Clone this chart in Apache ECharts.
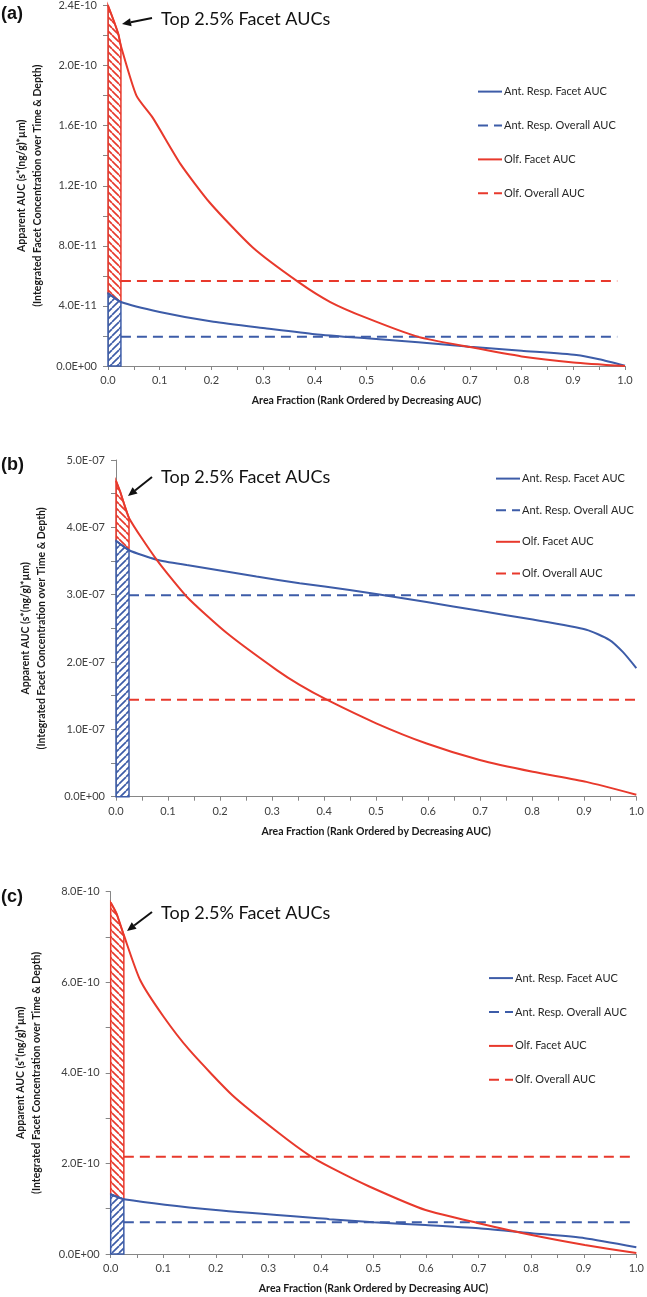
<!DOCTYPE html>
<html><head><meta charset="utf-8">
<script src="https://cdn.jsdelivr.net/npm/echarts@6/dist/echarts.min.js"></script>
<style>html,body{margin:0;padding:0;background:#fff}#c{width:647px;height:1297px}</style>
</head><body><div id="c"></div>
<script>
// ---------- data ----------
const seriesNames = ['Ant. Resp. Facet AUC', 'Ant. Resp. Overall AUC', 'Olf. Facet AUC', 'Olf. Overall AUC'];
const xTickLabels = ['0.0','0.1','0.2','0.3','0.4','0.5','0.6','0.7','0.8','0.9','1.0'];
const xTitle = 'Area Fraction (Rank Ordered by Decreasing AUC)';
const yTitle = 'Apparent AUC (s*(ng/g)*µm)\n(Integrated Facet Concentration over Time & Depth)';
const topCut = 0.025;
const annotText = 'Top 2.5% Facet AUCs';

// panel (a)
const aYTicks = ['0.0E+00','4.0E-11','8.0E-11','1.2E-10','1.6E-10','2.0E-10','2.4E-10'];
const aOlfX = [0, 0.012, 0.02, 0.025, 0.055, 0.087, 0.14, 0.197, 0.28, 0.37, 0.43, 0.5, 0.6, 0.7, 0.8, 0.9, 1.0];
const aOlfY = [2.40e-10, 2.29e-10, 2.21e-10, 2.13e-10, 1.80e-10, 1.65e-10, 1.346e-10, 1.087e-10, 0.789e-10, 0.555e-10, 0.426e-10, 0.32e-10, 0.194e-10, 0.126e-10, 0.064e-10, 0.024e-10, 0.0];
const aAntX = [0, 0.025, 0.1, 0.204, 0.307, 0.4, 0.5, 0.6, 0.7, 0.8, 0.906, 0.95, 1.0];
const aAntY = [4.84e-11, 4.26e-11, 3.6e-11, 2.94e-11, 2.5e-11, 2.12e-11, 1.84e-11, 1.58e-11, 1.28e-11, 1.01e-11, 0.73e-11, 0.45e-11, 0.02e-11];
const aOlfOverall = 5.66e-11;
const aAntOverall = 1.94e-11;
const aOverallX = [0.025, 0.985];

// panel (b)
const bYTicks = ['0.0E+00','1.0E-07','2.0E-07','3.0E-07','4.0E-07','5.0E-07'];
const bOlfX = [0, 0.008, 0.025, 0.078, 0.136, 0.213, 0.309, 0.353, 0.405, 0.5, 0.597, 0.699, 0.801, 0.904, 1.0];
const bOlfY = [4.69e-7, 4.53e-7, 4.14e-7, 3.52e-7, 2.97e-7, 2.43e-7, 1.88e-7, 1.66e-7, 1.44e-7, 1.09e-7, 0.79e-7, 0.545e-7, 0.37e-7, 0.22e-7, 0.03e-7];
const bAntX = [0, 0.025, 0.078, 0.136, 0.27, 0.353, 0.449, 0.5, 0.597, 0.699, 0.801, 0.904, 0.948, 0.974, 1.0];
const bAntY = [3.80e-7, 3.66e-7, 3.52e-7, 3.44e-7, 3.27e-7, 3.17e-7, 3.07e-7, 3.01e-7, 2.89e-7, 2.76e-7, 2.63e-7, 2.48e-7, 2.33e-7, 2.15e-7, 1.91e-7];
const bOlfOverall = 1.44e-7;
const bAntOverall = 2.99e-7;
const bOverallX = [0.025, 1.0];

// panel (c)
const cYTicks = ['0.0E+00','2.0E-10','4.0E-10','6.0E-10','8.0E-10'];
const cOlfX = [0, 0.011, 0.025, 0.056, 0.1, 0.15, 0.232, 0.321, 0.38, 0.42, 0.492, 0.599, 0.7, 0.801, 0.902, 1.0];
const cOlfY = [7.76e-10, 7.52e-10, 7.04e-10, 6.05e-10, 5.25e-10, 4.5e-10, 3.5e-10, 2.66e-10, 2.16e-10, 1.90e-10, 1.49e-10, 0.97e-10, 0.68e-10, 0.42e-10, 0.20e-10, 0.02e-10];
const cAntX = [0, 0.025, 0.2, 0.416, 0.5, 0.599, 0.7, 0.801, 0.902, 1.0];
const cAntY = [1.32e-10, 1.21e-10, 0.97e-10, 0.77e-10, 0.70e-10, 0.64e-10, 0.57e-10, 0.46e-10, 0.35e-10, 0.15e-10];
const cOlfOverall = 2.15e-10;
const cAntOverall = 0.70e-10;
const cOverallX = [0.025, 0.995];

// ---------- styling / layout ----------
const RED = '#E8392C', BLUE = '#3D5CA8', AXIS = '#868686', FONT = 'Lato';
function hatch(color, dir) {
  const s = 7, c = document.createElement('canvas'); c.width = s; c.height = s;
  const g = c.getContext('2d');
  g.strokeStyle = color; g.lineWidth = 1.7;
  for (const o of [-s, 0, s]) {
    g.beginPath();
    if (dir === 'back') { g.moveTo(o, 0); g.lineTo(o + s, s); }
    else { g.moveTo(o, s); g.lineTo(o + s, 0); }
    g.stroke();
  }
  return { image: c, repeat: 'repeat' };
}
const redHatch = hatch(RED, 'back');
const blueHatch = hatch(BLUE, 'fwd');

const panels = [
  { grid: {left: 108, top: 4, width: 517, height: 362}, yMax: 2.4e-10, yInt: 4e-11, yTicks: aYTicks,
    olfX: aOlfX, olfY: aOlfY, antX: aAntX, antY: aAntY, olfOv: aOlfOverall, antOv: aAntOverall, ovX: aOverallX,
    legend: {left: 477, top: 86, itemGap: 22.7}, yGap: 57, tag: '(a)', tagY: 15,
    arrow: [152, 18, 122, 24], textY: 19 },
  { grid: {left: 116, top: 460, width: 520.7, height: 336.7}, yMax: 5e-7, yInt: 1e-7, yTicks: bYTicks,
    olfX: bOlfX, olfY: bOlfY, antX: bAntX, antY: bAntY, olfOv: bOlfOverall, antOv: bAntOverall, ovX: bOverallX,
    legend: {left: 495, top: 473, itemGap: 20.4}, yGap: 66, tag: '(b)', tagY: 466,
    arrow: [152, 477, 128, 496], textY: 477 },
  { grid: {left: 110.7, top: 891.7, width: 527.6, height: 362.3}, yMax: 8e-10, yInt: 2e-10, yTicks: cYTicks,
    olfX: cOlfX, olfY: cOlfY, antX: cAntX, antY: cAntY, olfOv: cOlfOverall, antOv: cAntOverall, ovX: cOverallX,
    legend: {left: 488, top: 972.5, itemGap: 22.7}, yGap: 66, tag: '(c)', tagY: 898,
    arrow: [152, 912, 127, 931], textY: 913 }
];

const zip = (xs, ys) => xs.map((x, i) => [x, ys[i]]);
const grids = [], xAxes = [], yAxes = [], series = [], legends = [], graphics = [];

panels.forEach((p, i) => {
  grids.push(p.grid);
  xAxes.push({
    type: 'value', gridIndex: i, min: 0, max: 1, interval: 0.1,
    axisLine: {lineStyle: {color: AXIS, width: 1}},
    axisTick: {show: true, length: 4, lineStyle: {color: AXIS}},
    minorTick: {show: true, splitNumber: 2, length: 4, lineStyle: {color: AXIS}},
    splitLine: {show: false},
    axisLabel: {margin: 9, fontSize: 11, color: '#404040', fontFamily: FONT,
      formatter: v => xTickLabels[Math.round(v * 10)]},
    name: xTitle, nameLocation: 'middle', nameGap: 29,
    nameTextStyle: {fontSize: 10.5, fontWeight: 'bold', color: '#1a1a1a', fontFamily: FONT}
  });
  yAxes.push({
    type: 'value', gridIndex: i, min: 0, max: p.yMax, interval: p.yInt,
    axisLine: {show: true, lineStyle: {color: AXIS, width: 1}},
    axisTick: {show: true, length: 5, lineStyle: {color: AXIS}},
    minorTick: {show: true, splitNumber: 2, length: 5, lineStyle: {color: AXIS}},
    splitLine: {show: false},
    axisLabel: {margin: 11, fontSize: 11, color: '#404040', fontFamily: FONT,
      formatter: v => p.yTicks[Math.round(v / p.yInt)]},
    name: yTitle, nameLocation: 'middle', nameGap: p.yGap, nameRotate: 90,
    nameTextStyle: {fontSize: 10.5, fontWeight: 'bold', color: '#1a1a1a', fontFamily: FONT, lineHeight: 16}
  });
  // hatched top 2.5% regions
  series.push({
    type: 'custom', name: 'hatch' + i, xAxisIndex: i, yAxisIndex: i, silent: true, z: 1,
    data: [[0, 0]],
    renderItem: (params, api) => {
      const top = [], bot = [];
      p.olfX.forEach((x, k) => { if (x <= topCut + 1e-9) top.push(api.coord([x, p.olfY[k]])); });
      p.antX.forEach((x, k) => { if (x <= topCut + 1e-9) bot.push(api.coord([x, p.antY[k]])); });
      const redPoly = top.concat(bot.slice().reverse());
      const bluePoly = bot.concat([api.coord([topCut, 0]), api.coord([0, 0])]);
      return {type: 'group', children: [
        {type: 'polygon', shape: {points: redPoly}, style: {fill: redHatch, stroke: RED, lineWidth: 1.5}},
        {type: 'polygon', shape: {points: bluePoly}, style: {fill: blueHatch, stroke: BLUE, lineWidth: 1.5}}
      ]};
    }
  });
  const line = (name, data, color, dashed, z) => ({
    type: 'line', name, xAxisIndex: i, yAxisIndex: i, data, symbol: 'none', silent: true, z,
    smooth: dashed ? false : 0.2,
    lineStyle: {color, width: 2, type: dashed ? [10, 6] : 'solid'}, itemStyle: {color},
    animation: false
  });
  series.push(line(seriesNames[0], zip(p.antX, p.antY), BLUE, false, 3));
  series.push(line(seriesNames[1], p.ovX.map(x => [x, p.antOv]), BLUE, true, 2));
  series.push(line(seriesNames[2], zip(p.olfX, p.olfY), RED, false, 4));
  series.push(line(seriesNames[3], p.ovX.map(x => [x, p.olfOv]), RED, true, 2));
  legends.push({
    data: seriesNames, orient: 'vertical', left: p.legend.left, top: p.legend.top,
    itemGap: p.legend.itemGap, itemWidth: 24, itemHeight: 14, padding: 0, selectedMode: false,
    itemStyle: {opacity: 0},
    textStyle: {fontSize: 11, color: '#262626', fontFamily: FONT, padding: [0, 0, 0, -3]}
  });
  // panel tag
  graphics.push({type: 'text', left: 1, top: p.tagY - 10, silent: true,
    style: {text: p.tag, font: 'bold 18px "Liberation Sans", Arial', fill: '#111'}});
  // annotation text + arrow
  graphics.push({type: 'text', x: 161, y: p.textY, silent: true,
    style: {text: annotText, font: '18px Lato', fill: '#111', verticalAlign: 'middle'}});
  const [x1, y1, x2, y2] = p.arrow;
  const ang = Math.atan2(y2 - y1, x2 - x1), L = 9, W = 4;
  const bx = x2 - L * Math.cos(ang), by = y2 - L * Math.sin(ang);
  graphics.push({type: 'line', silent: true, shape: {x1, y1, x2: bx, y2: by}, style: {stroke: '#111', lineWidth: 2}});
  graphics.push({type: 'polygon', silent: true, shape: {points: [[x2, y2],
    [bx + W * Math.sin(ang), by - W * Math.cos(ang)], [bx - W * Math.sin(ang), by + W * Math.cos(ang)]]},
    style: {fill: '#111'}});
});

const chart = echarts.init(document.getElementById('c'), null, {renderer: 'canvas'});
chart.setOption({
  animation: false, backgroundColor: '#fff',
  grid: grids, xAxis: xAxes, yAxis: yAxes, series, legend: legends, graphic: graphics
});
</script></body></html>
